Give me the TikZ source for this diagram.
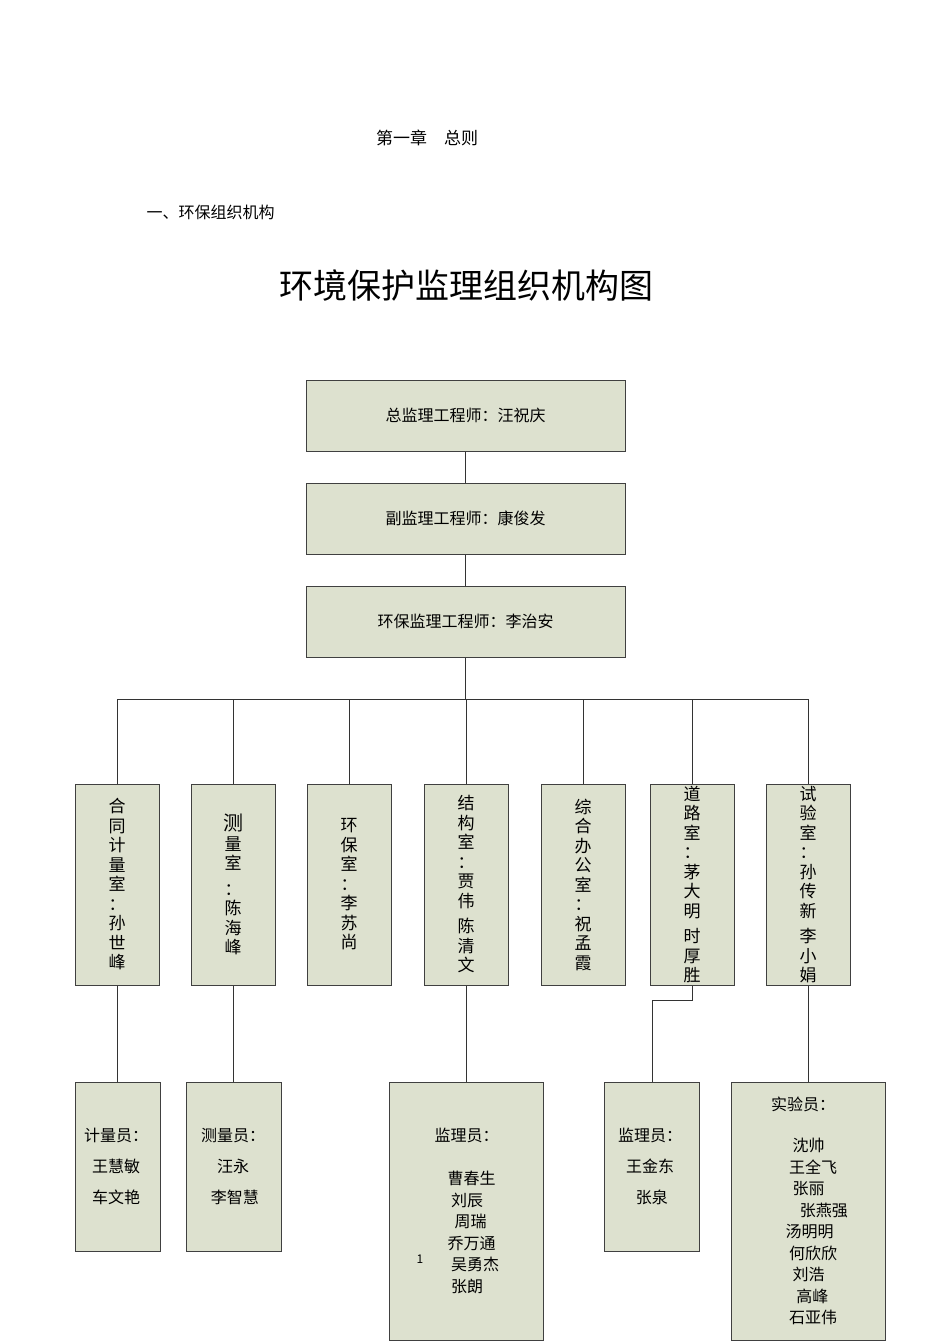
\documentclass[tikz,border=0pt]{standalone}
\usepackage{fontspec}
\setmainfont{Noto Sans CJK SC}
\begin{document}
\begin{tikzpicture}[x=1pt,y=-1pt,
  bx/.style={draw=black!75,line width=1pt,fill={rgb,255:red,221;green,225;blue,207},inner sep=0pt},
  ln/.style={draw=black!80,line width=0.8pt},
  tx/.style={font=\fontsize{16}{19}\selectfont,align=center},
  vt/.style={font=\fontsize{17}{19.5}\selectfont,align=center,inner sep=0pt}]
\useasboundingbox (0,0) rectangle (950,1344);
\node[font=\fontsize{17}{20}\selectfont] (ch) at (427,138) {第一章\quad 总则};
\node[font=\fontsize{16}{20}\selectfont,anchor=west] (s1) at (143,212) {一、环保组织机构};
\node[font=\fontsize{34}{40}\selectfont] (title) at (466,286) {环境保护监理组织机构图};
% top chain
\node[bx,minimum width=319pt,minimum height=71pt,tx] (a) at (465.5,415.5) {总监理工程师：汪祝庆};
\node[bx,minimum width=319pt,minimum height=71pt,tx] (b) at (465.5,518.5) {副监理工程师：康俊发};
\node[bx,minimum width=319pt,minimum height=71pt,tx] (c) at (465.5,621.5) {环保监理工程师：李治安};
\draw[ln] (a) -- (b); \draw[ln] (b) -- (c);
% departments
\foreach \n/\x/\t in {d1/117/{合\\同\\计\\量\\室\\：\\孙\\世\\峰},
  d2/233/{\fontsize{20}{21}\selectfont 测\\量\\室\\[6pt]：\\陈\\海\\峰},
  d3/349/{环\\保\\室\\：\\李\\苏\\尚},
  d4/466/{结\\构\\室\\：\\贾\\伟\\[6pt]陈\\清\\文},
  d5/583/{综\\合\\办\\公\\室\\：\\祝\\孟\\霞},
  d6/692/{道\\路\\室\\：\\茅\\大\\明\\[6pt]时\\厚\\胜},
  d7/808/{试\\验\\室\\：\\孙\\传\\新\\[6pt]李\\小\\娟}}{
  \node[bx,minimum width=84pt,minimum height=201pt] (\n) at (\x,884.5) {};
  \node[vt] (\n t) at (\x,884.5) {\t};
}
\coordinate (bl) at (117,699); \coordinate (br) at (808,699);
\draw[ln] (bl) -- (br);
\draw[ln] (c.south) -- (c.south |- bl);
\foreach \n in {d1,d2,d3,d4,d5,d6,d7} \draw[ln] (\n.north |- bl) -- (\n.north);
% bottom boxes
\node[bx,minimum width=85pt,minimum height=169pt] (e1) at (117.5,1166.5) {};
\node[bx,minimum width=95pt,minimum height=169pt] (e2) at (233.5,1166.5) {};
\node[bx,minimum width=154pt,minimum height=258pt] (e3) at (466,1211) {};
\node[bx,minimum width=95pt,minimum height=169pt] (e4) at (651.5,1166.5) {};
\node[bx,minimum width=154pt,minimum height=258pt] (e5) at (808,1211) {};
\draw[ln] (d1.south) -- (d1.south |- e1.north);
\draw[ln] (d2.south) -- (d2.south |- e2.north);
\draw[ln] (d4.south) -- (e3.north);
\coordinate (k1) at (692,1000); \coordinate (k2) at (652,1000);
\draw[ln] (d6.south) -- (k1) -- (k2) -- (k2 |- e4.north);
\draw[ln] (d7.south) -- (e5.north);
\node[tx] (t1) at (116,1166) {计量员：\\[12pt]王慧敏\\[12pt]车文艳};
\node[tx] (t2) at (233,1166) {测量员：\\[12pt]汪永\\[12pt]\ 李智慧};
\node[tx,anchor=north west] (t3) at (431,1125) {监理员：};
\node[tx,anchor=north west,align=left,font=\fontsize{16}{21.5}\selectfont] (t3b) at (444,1168) {曹春生\\\ 刘辰\\\ \ 周瑞\\乔万通\\\ 吴勇杰\\\ 张朗};
\node[font=\fontsize{12}{14}\selectfont] (one) at (420,1259) {1};
\node[tx] (t4) at (650,1166) {监理员：\\[12pt]王金东\\[12pt]\ 张泉};
\node[tx] (t5) at (803,1104) {实验员：};
\node[tx,align=left,anchor=north west,font=\fontsize{16}{21.5}\selectfont] (t5b) at (782,1135) {\ \ 沈帅\\\ 王全飞\\\ \ 张丽\\\ \ \ \ 张燕强\\汤明明\\\ 何欣欣\\\ \ 刘浩\\\ \ \ 高峰\\\ 石亚伟};
\end{tikzpicture}
\end{document}
